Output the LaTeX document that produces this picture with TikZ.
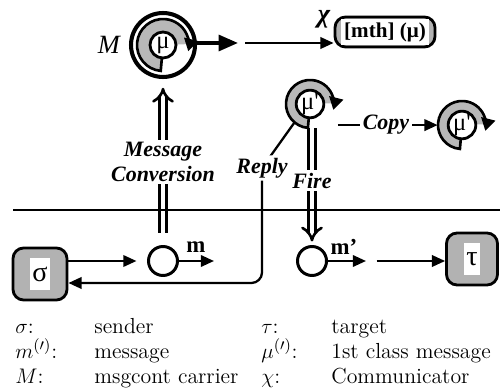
\documentclass[tikz,border=0pt]{standalone}
\usepackage{fontspec}
\newfontfamily\figfont{Liberation Serif}
\usetikzlibrary{arrows.meta, calc, positioning}
\tikzstyle{arrow} = [line width=1.3pt, -{Triangle[length=7.5pt, width=6.5pt]}]
\tikzstyle{bigarrow} = [line width=2pt, -{Triangle[length=11pt, width=9pt]}]
\tikzstyle{dblarrow} = [double, line width=1.5pt, double distance=2.6pt, -{Implies[scale=2.3]}]
\tikzstyle{tag} = [font=\figfont\bfseries\itshape\fontsize{12.5}{14}\selectfont, fill=white, inner sep=1.5pt, align=center]
\tikzstyle{objbox} = [rectangle, draw, line width=1.6pt, rounded corners=6pt, fill=black!30]
\tikzstyle{msgnode} = [circle, draw, line width=1.7pt, minimum size=0.58cm, inner sep=0pt]
\tikzstyle{ring} = [circle, draw, line width=2.3pt, minimum size=1.28cm, inner sep=0pt]
\tikzstyle{swirl} = [circle, inner sep=0pt]
\tikzstyle{mucirc} = [circle, draw, line width=1.6pt, fill=white, inner sep=0pt, font=\figfont\fontsize{14}{14}\selectfont]
\tikzstyle{legend} = [anchor=base west, inner sep=0pt, font=\fontsize{12.4}{14}\selectfont]

% shaded band turning clockwise round a node, ending in a tip
\newcommand{\swirlband}[3]{%
  \fill[black!28] ($(#1)+(265:#3)$) arc[start angle=265, end angle=2, radius=#3]
    -- ($(#1)+(2:#2)$) arc[start angle=2, end angle=265, radius=#2] -- cycle;
  \draw[line width=1.5pt, -{Triangle[length=7pt, width=8pt]}]
    ($(#1)+(265:#2)$) -- ($(#1)+(265:#3)$) arc[start angle=265, end angle=-14, radius=#3];
}

\begin{document}
\begin{tikzpicture}[x=0.02cm, y=0.02cm]
	\useasboundingbox (0,0) rectangle (503,-391);
	% upper half: carrier, communicator and the first class messages
	\node (carrier) [ring] at (163,-45) {};
	\node (muswirl) [swirl, minimum size=1.04cm] at (carrier) {};
	\swirlband{muswirl}{13}{26}
	\node (mu) [mucirc, minimum size=0.52cm] at (carrier) {μ};
	\node (carrierlbl) [left = 0.06cm of carrier, font=\figfont\itshape\fontsize{15}{15}\selectfont] {M};
	\node (comm) [objbox, minimum width=2cm, minimum height=0.6cm] at (385,-32) {};
	\node (commtext) [fill=white, inner sep=2pt, font=\figfont\bfseries\fontsize{12}{12}\selectfont] at (comm) {[mth] (μ)};
	\node (commlbl) [font=\figfont\bfseries\itshape\fontsize{15}{15}\selectfont] at (324,-19) {χ};
	\coordinate (hop) at (238,-43);
	\draw [bigarrow] (carrier.east |- hop) -- (hop);
	\draw [arrow, shorten <=4pt] (hop) -- (hop -| comm.west);

	\node (mupswirl) [swirl, minimum size=0.96cm] at (310,-104) {};
	\swirlband{mupswirl}{11.5}{24}
	\node (mup) [mucirc, minimum size=0.46cm] at (mupswirl) {μ'};
	\node (copyswirl) [swirl, minimum size=0.96cm] at (462,-125) {};
	\swirlband{copyswirl}{11.5}{24}
	\node (mupcopy) [mucirc, minimum size=0.46cm] at (copyswirl) {μ'};
	\draw [arrow, shorten <=2pt] (mupswirl.-60 -| mupswirl.east) -- node[tag] {Copy} (copyswirl.west |- mupswirl.-60);

	% lower half: sender, messages and target
	\node (sender) [objbox, minimum width=1.08cm, minimum height=1.04cm] at (40,-274) {};
	\node (sendertext) [fill=white, inner sep=1.5pt, minimum height=0.66cm, font=\figfont\fontsize{16}{16}\selectfont] at (sender) {σ};
	\node (msg) [msgnode] at (163,-261) {};
	\node (msglbl) [font=\figfont\bfseries\fontsize{13}{13}\selectfont] at (196,-247) {m};
	\node (msgp) [msgnode] at (312,-261) {};
	\node (msgplbl) [font=\figfont\bfseries\fontsize{13}{13}\selectfont] at (344,-247) {m’};
	\node (target) [objbox, minimum width=1.02cm, minimum height=1.04cm] at (472,-259) {};
	\node (targettext) [fill=white, inner sep=1.5pt, minimum height=0.66cm, font=\figfont\fontsize{16}{16}\selectfont] at (target) {τ};
	\coordinate (msgout) at (214,-261);
	\coordinate (msgpout) at (366,-261);
	\draw [arrow, shorten >=6pt] (sender.east |- msg) -- (msg.west);
	\draw [arrow] (msg.east) -- (msgout);
	\draw [arrow] (msgp.east) -- (msgpout);
	\draw [arrow, shorten <=6pt] (msgpout) -- (target.west |- msgpout);

	% conversions between the two halves
	\draw [dblarrow, shorten <=7pt, shorten >=5pt] (msg.north) -- node[tag] {Message\\Conversion} (carrier.south);
	\draw [dblarrow, shorten >=2pt] (mupswirl.south -| msgp) -- node[tag, pos=0.45] {Fire} (msgp.north);
	\draw [arrow, rounded corners=6pt] (mupswirl.230) -- (262,-168) node[tag] {Reply} |- ([yshift=-0.18cm]sender.east);
	\draw [line width=1pt] (13,-210) -- (500,-210);

	% legend
	\node (leg1) [legend] at (15,-333) {$\sigma$:};
	\node (leg2) [legend] at (94,-333) {sender};
	\node (leg3) [legend] at (261,-333) {$\tau$:};
	\node (leg4) [legend] at (331,-333) {target};
	\node (leg5) [legend] at (15,-358) {$m^{(\prime)}$:};
	\node (leg6) [legend] at (94,-358) {message};
	\node (leg7) [legend] at (261,-358) {$\mu^{(\prime)}$:};
	\node (leg8) [legend] at (331,-358) {1st class message};
	\node (leg9) [legend] at (15,-383) {$M$:};
	\node (leg10) [legend] at (94,-383) {msgcont carrier};
	\node (leg11) [legend] at (261,-383) {$\chi$:};
	\node (leg12) [legend] at (331,-383) {Communicator};
\end{tikzpicture}
\end{document}
